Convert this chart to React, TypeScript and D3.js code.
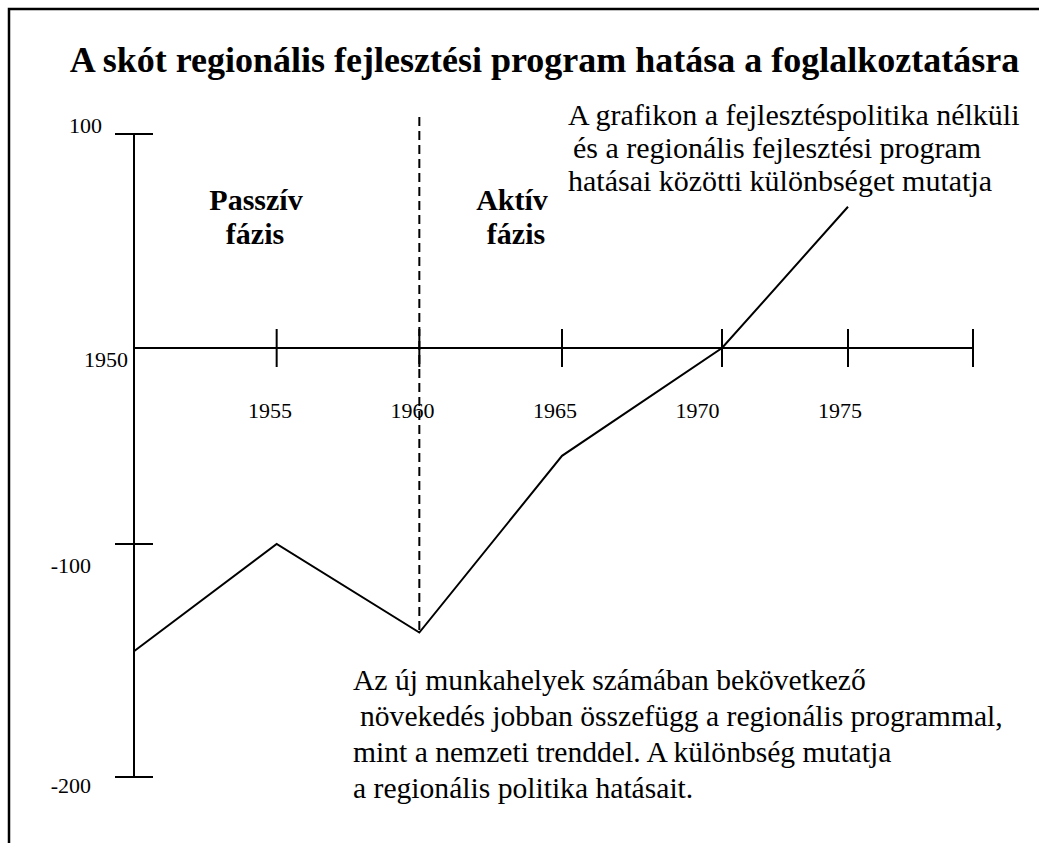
import React from 'react'
import * as d3 from 'd3'

// values (difference in jobs, hand-drawn axis)
const years = [1950, 1955, 1960, 1965, 1970, 1975]
const effect = [-146, -100, -138, -55, 0, 66]
const xTickYears = [1955, 1960, 1965, 1970, 1975, 1980]
const xTickLabels = ['1955', '1960', '1965', '1970', '1975']
const yTicks = [100, -100, -200]
const yTickLabels = ['100', '-100', '-200']
const originLabel = '1950'
const dividerYear = 1960
const dividerTop = 108

const title = 'A skót regionális fejlesztési program hatása a foglalkoztatásra'
const noteTop = [
  'A grafikon a fejlesztéspolitika nélküli',
  'és a regionális fejlesztési program',
  'hatásai közötti különbséget mutatja',
]
const noteBottom = [
  'Az új munkahelyek számában bekövetkező',
  'növekedés jobban összefügg a regionális programmal,',
  'mint a nemzeti trenddel. A különbség mutatja',
  'a regionális politika hatásait.',
]
const phases = [
  ['Passzív', 'fázis'],
  ['Aktív', 'fázis'],
]

const W = 1039
const H = 843
const serif = '"Liberation Serif", "Times New Roman", serif'

// the original axis was drawn by hand, so the spacing is piecewise
const x = d3.scaleLinear().domain([1950, 1965, 1970, 1975, 1980]).range([134, 562, 722, 848, 973])
const y = d3.scaleLinear().domain([-200, -100, 0, 100]).range([777, 544, 348, 134])
const xLabel = d3.scaleLinear().domain([1950, 1975]).range([127.5, 840])

// label placement next to the y ticks
const yLabelPos: Record<string, { x: number; dy: number }> = {
  '100': { x: 102, dy: -1 },
  '-100': { x: 91, dy: 29 },
  '-200': { x: 91, dy: 16 },
}

const App = () => {
  const pts = years.map((yr, i) => [x(yr), y(effect[i])] as [number, number])
  const path = d3.line()(pts) || ''
  const x0 = x(1950)
  const y0 = y(0)
  const tick = 19

  return (
    <svg width={W} height={H} style={{ position: 'absolute', left: 0, top: 0, background: '#fff' }}>
      <rect x={9} y={9} width={1200} height={1000} fill="#fff" stroke="#000" strokeWidth={2.5} />

      <text x={544.5} y={72} textAnchor="middle" fontFamily={serif} fontWeight="bold" fontSize={36}>
        {title}
      </text>

      {/* y axis */}
      <line x1={x0} x2={x0} y1={y(100)} y2={y(-200)} stroke="#000" strokeWidth={2} />
      {yTicks.map((v) => (
        <line key={v} x1={x0 - tick} x2={x0 + tick} y1={y(v)} y2={y(v)} stroke="#000" strokeWidth={2} />
      ))}
      {yTicks.map((v, i) => (
        <text key={'l' + v} x={yLabelPos[yTickLabels[i]].x} y={y(v) + yLabelPos[yTickLabels[i]].dy}
          textAnchor="end" fontFamily={serif} fontSize={22}>
          {yTickLabels[i]}
        </text>
      ))}
      <text x={128} y={y0 + 19} textAnchor="end" fontFamily={serif} fontSize={22}>{originLabel}</text>

      {/* x axis */}
      <line x1={x0} x2={x(1980)} y1={y0} y2={y0} stroke="#000" strokeWidth={2} />
      {xTickYears.map((yr) => (
        <line key={yr} x1={x(yr)} x2={x(yr)} y1={y0 - tick} y2={y0 + tick} stroke="#000" strokeWidth={2} />
      ))}
      {xTickLabels.map((lab) => (
        <text key={lab} x={xLabel(+lab)} y={418} textAnchor="middle" fontFamily={serif} fontSize={22}>
          {lab}
        </text>
      ))}

      {/* phase divider */}
      <line x1={x(dividerYear)} x2={x(dividerYear)} y1={y(dividerTop)} y2={y(effect[years.indexOf(dividerYear)])}
        stroke="#000" strokeWidth={2} strokeDasharray="9 5" />

      {phases.map((p, i) => (
        <text key={i} x={i === 0 ? 256 : 512} y={210} textAnchor="middle" fontFamily={serif} fontWeight="bold" fontSize={30}>
          <tspan x={i === 0 ? 256 : 512}>{p[0]}</tspan>
          <tspan x={i === 0 ? 255 : 516} dy={34}>{p[1]}</tspan>
        </text>
      ))}

      <path d={path} fill="none" stroke="#000" strokeWidth={2} strokeLinejoin="miter" />

      {noteTop.map((t, i) => (
        <text key={i} x={i === 1 ? 573 : 568} y={125 + i * 33} fontFamily={serif} fontSize={30}>{t}</text>
      ))}
      {noteBottom.map((t, i) => (
        <text key={i} x={i === 1 ? 360 : 353} y={690 + i * 36} fontFamily={serif} fontSize={29.6}>{t}</text>
      ))}
    </svg>
  )
}

export default App
